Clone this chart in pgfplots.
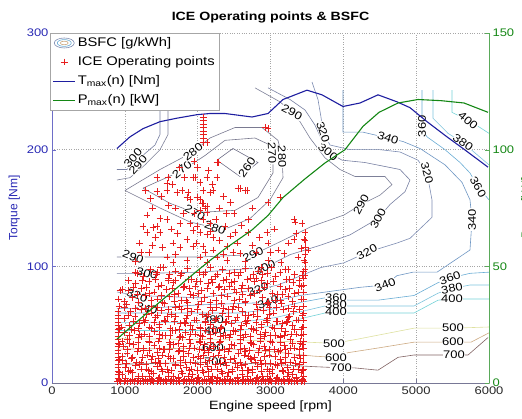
\documentclass[border=0pt]{standalone}
\usepackage{fontspec}
\setmainfont{Liberation Sans}[FakeStretch=1.18]
\newfontfamily\ylfont{Liberation Sans}
\usepackage{pgfplots}
\pgfplotsset{compat=1.18}
\definecolor{axgrey}{RGB}{120,120,150}
\definecolor{axblue}{RGB}{110,110,200}
\definecolor{tickblue}{RGB}{40,40,180}
\definecolor{axgreen}{RGB}{90,170,90}
\definecolor{pgreen}{RGB}{20,135,20}
\definecolor{tblue}{RGB}{30,30,160}
\definecolor{ptred}{RGB}{232,30,30}
\definecolor{c260}{RGB}{110,110,135}
\definecolor{c270}{RGB}{118,118,140}
\definecolor{c280}{RGB}{122,122,145}
\definecolor{c290}{RGB}{125,128,152}
\definecolor{c300}{RGB}{120,128,162}
\definecolor{c320}{RGB}{125,140,178}
\definecolor{c340}{RGB}{110,150,195}
\definecolor{c360}{RGB}{105,172,212}
\definecolor{c380}{RGB}{125,195,220}
\definecolor{c400}{RGB}{115,210,215}
\definecolor{c500}{RGB}{222,225,160}
\definecolor{c600}{RGB}{205,170,130}
\definecolor{c700}{RGB}{130,100,100}
\pgfplotsset{
  lineleg/.style={legend image code/.code={\draw[##1] (0pt,0pt) -- (22pt,0pt);}},
  markleg/.style={legend image code/.code={\draw[mark repeat=2,mark phase=2,##1] plot coordinates {(0pt,0pt)(11pt,0pt)(22pt,0pt)};}},
  contleg/.style={legend image code/.code={
    \draw[c320, line width=0.6pt] (11pt,0pt) ellipse (10pt and 5pt);
    \draw[c360, line width=0.6pt] (11pt,0pt) ellipse (7pt and 3.4pt);
    \draw[c600, line width=0.6pt] (11pt,0pt) ellipse (4pt and 1.8pt);}},
}
\tikzset{cl/.style={font=\fontsize{11}{11}\selectfont, fill=white, inner sep=0.4pt, text=black}}
\newcommand{\cl}[4]{\node[cl, rotate=#4] at (axis cs:#1,#2) {#3};}
\begin{document}
\begin{tikzpicture}
\begin{axis}[
  scale only axis, width=437pt, height=350pt,
  at={(0pt,0pt)}, anchor=south west,
  xmin=0, xmax=6000, ymin=0, ymax=300,
  xtick={0,1000,2000,3000,4000,5000,6000},
  ytick={0,100,200,300},
  axis x line*=bottom, axis y line*=left,
  axis line style={-},
  x axis line style={color=axgrey},
  y axis line style={color=axblue},
  tick align=inside, major tick length=4pt,
  xtick style={color=axgrey}, ytick style={color=axblue},
  grid=major,
  grid style={dotted, color=gray!70, line width=0.4pt},
  /pgf/number format/assume math mode=true,
  /pgf/number format/1000 sep={},
  scaled ticks=false,
  xticklabel style={font=\fontsize{11}{11}\selectfont, color=black!85},
  yticklabel style={font=\fontsize{11}{11}\selectfont, color=tickblue},
  xlabel={Engine speed [rpm]},
  xlabel style={font=\fontsize{12}{12}\selectfont},
  ylabel={Torque [Nm]},
  ylabel style={font=\ylfont\fontsize{12}{12}\selectfont, color=tickblue},
  title={ICE Operating points \& BSFC},
  title style={font=\bfseries\fontsize{12}{12}\selectfont},
  legend style={at={(0,1)}, anchor=north west, xshift=-2pt, draw=gray!70, fill=white,
    font=\fontsize{12.5}{15}\selectfont, inner sep=2.5pt, row sep=4.5pt},
  legend cell align=left,
]
\addlegendimage{contleg}
\addlegendentry{BSFC [g/kWh]}
% ---- BSFC contours ----
\addplot[c260, line width=0.6pt, forget plot] coordinates {(2265,191)(2485,201)(2828,189)(2581,177)(2265,191)};
\addplot[c270, line width=0.6pt, forget plot] coordinates {(1249,167)(1785,182)(2101,195)(2375,208)(2787,210)(2993,204)(3034,197)(3034,180)(2828,159)(2513,148)(1963,146)(1620,154)(1249,167)};
\addplot[c280, line width=0.6pt, forget plot] coordinates {(1002,165)(1483,183)(1936,198)(2169,210)(2513,219)(2883,219)(3103,208)(3158,194)(3172,176)(2993,157)(2719,141)(2416,133)(2238,133)(1895,138)(1483,150)(1002,165)};
\addplot[c290, line width=0.6pt, forget plot] coordinates {(2787,253)(3130,241)(3295,232)(3405,224)(3542,210)(3748,193)(3954,183)(4160,177)(4572,177)(4668,170)(4503,161)(4243,153)(4009,144)(3556,134)(3130,121)(2760,110)(2032,108)(1112,108)(892,108)};
\addplot[c290, line width=0.6pt, forget plot] coordinates {(892,174)(1071,176)(1277,187)(1483,200)(1593,213)(1593,253)};
\addplot[c300, line width=0.6pt, forget plot] coordinates {(2966,253)(3268,243)(3474,234)(3611,221)(3707,208)(3789,198)(3982,191)(4297,189)(4778,183)(4915,174)(4847,164)(4641,153)(4476,141)(4092,127)(3680,118)(3268,110)(2924,99)(2032,95)(1304,94)(892,94)};
\addplot[c300, line width=0.6pt, forget plot] coordinates {(892,183)(1030,183)(1208,193)(1414,204)(1483,213)(1483,253)};
\addplot[c320, line width=0.6pt, forget plot] coordinates {(3570,258)(3652,243)(3693,228)(3721,215)(3817,204)(4092,200)(4503,200)(4778,198)(5025,191)(5149,180)(5217,157)(5217,142)(4915,124)(4737,120)(4325,112)(4009,103)(3693,99)(3103,84)(2828,80)(2032,73)(1167,75)(892,78)};
\addplot[c340, line width=0.6pt, forget plot] coordinates {(3995,251)(3995,215)(4270,215)(4613,210)(4819,207)(5053,201)(5396,187)(5629,172)(5739,157)(5767,140)(5739,114)(5286,95)(4957,95)(4737,92)(4572,84)(4229,82)(3405,75)(2966,69)(2032,67)(1304,64)(892,64)};
\addplot[c360, line width=0.6pt, forget plot] coordinates {(5080,251)(5080,218)(5149,211)(5396,200)(5602,189)(5739,180)(5849,168)(6000,157)};
\addplot[c380, line width=0.6pt, forget plot] coordinates {(5231,251)(5231,227)(5437,214)(5643,206)(5849,195)(6000,187)};
\addplot[c400, line width=0.6pt, forget plot] coordinates {(5492,251)(5492,232)(5712,225)(5876,219)(6000,214)};
\addplot[c360, line width=0.6pt, forget plot] coordinates {(892,60)(2581,60)(2993,63)(3405,69)(3748,73)(3899,73)(4064,71)(4476,71)(4970,75)(5300,86)(5465,90)(5739,94)(6000,95)};
\addplot[c380, line width=0.6pt, forget plot] coordinates {(892,52)(2581,52)(3062,56)(3405,61)(3748,66)(3899,67)(4064,66)(4970,66)(5300,77)(5492,81)(5739,84)(6000,84)};
\addplot[c400, line width=0.6pt, forget plot] coordinates {(892,45)(2581,45)(3130,50)(3474,56)(3748,60)(3899,61)(4064,60)(4970,60)(5300,71)(5492,72)(5739,72)(6000,72)};
\addplot[c500, line width=0.6pt, forget plot] coordinates {(892,38)(2500,37)(3500,35)(3872,34)(4147,37)(4970,47)(5506,47)(6000,48)};
\addplot[c600, line width=0.6pt, forget plot] coordinates {(892,29)(2211,30)(3000,27)(3600,23)(3899,22)(4064,26)(4476,30)(4970,35)(5753,35)(6000,43)};
\addplot[c700, line width=0.6pt, forget plot] coordinates {(892,16)(2238,18)(3000,16)(3600,14)(3968,13)(4147,13)(4476,11)(4751,22)(4970,24)(5712,24)(5987,39)};
% ---- contour labels ----
\cl{2677}{185}{260}{55}
\cl{1785}{183}{270}{38}\cl{1963}{146}{270}{-30}\cl{3020}{197}{270}{-88}
\cl{1936}{198}{280}{38}\cl{3158}{194}{280}{-88}\cl{2238}{133}{280}{-20}
\cl{3295}{232}{290}{-28}\cl{4243}{153}{290}{62}\cl{2760}{110}{290}{25}\cl{1112}{108}{290}{-20}\cl{1181}{187}{290}{48}
\cl{3789}{198}{300}{-38}\cl{4476}{141}{300}{62}\cl{2924}{99}{300}{25}\cl{1304}{94}{300}{-15}\cl{1112}{193}{300}{48}
\cl{3721}{215}{320}{-72}\cl{5149}{180}{320}{-75}\cl{4325}{112}{320}{28}\cl{2828}{80}{320}{20}\cl{1167}{75}{320}{-20}
\cl{4613}{210}{340}{-18}\cl{5767}{140}{340}{90}\cl{4572}{84}{340}{22}\cl{2966}{69}{340}{20}\cl{1304}{64}{340}{-15}
\cl{5080}{220}{360}{90}\cl{5849}{168}{360}{-60}\cl{3899}{73}{360}{0}\cl{5465}{90}{360}{20}
\cl{5643}{206}{380}{-35}\cl{3899}{67}{380}{0}\cl{5492}{81}{380}{10}\cl{2211}{54}{380}{0}
\cl{5712}{225}{400}{-40}\cl{3899}{61}{400}{0}\cl{5492}{72}{400}{0}\cl{2238}{45}{400}{0}
\cl{3872}{34}{500}{0}\cl{5506}{47}{500}{0}
\cl{3899}{22}{600}{0}\cl{5506}{35}{600}{0}\cl{2211}{30}{600}{0}
\cl{3968}{13}{700}{0}\cl{5520}{24}{700}{0}\cl{2238}{18}{700}{0}
% ---- operating points ----
\addplot[only marks, mark=+, mark size=3.4pt, color=ptred, mark options={line width=0.7pt}, markleg]
coordinates {
(900,1)(945,1)(990,1)(1035,1)(1080,1)(1125,1)(1170,1)(1215,1)(1260,1)(1305,1)(1350,1)(1395,1)(1440,1)(1485,1)(1530,1)(1575,1)(1620,1)(1665,1)(1710,1)(1755,1)(1800,1)(1845,1)(1890,1)(1935,1)(1980,1)(2025,1)(2070,1)(2115,1)(2160,1)(2205,1)(2250,1)(2295,1)(2340,1)(2385,1)(2430,1)(2475,1)(2520,1)(2565,1)(2610,1)(2655,1)(2700,1)(2745,1)(2790,1)(2835,1)(2880,1)(2925,1)(2970,1)(3015,1)(3060,1)(3105,1)(3150,1)(3195,1)(3240,1)(3285,1)(3330,1)(3375,1)(3420,1)(3460,1)
(922,2.3)(1012,2.3)(1102,2.3)(1192,2.3)(1282,2.3)(1372,2.3)(1462,2.3)(1552,2.3)(1642,2.3)(1732,2.3)(1822,2.3)(1912,2.3)(2002,2.3)(2092,2.3)(2182,2.3)(2272,2.3)(2362,2.3)(2452,2.3)(2542,2.3)(2632,2.3)(2722,2.3)(2812,2.3)(2902,2.3)(2992,2.3)(3082,2.3)(3172,2.3)(3262,2.3)(3352,2.3)(3442,2.3)
(920,3.5)(1010,4)(1100,3)(1190,4)(1280,3.5)(1370,3)(1460,4)(1550,3.5)(1640,3)(1730,4)(1820,3.5)(1910,3)(2000,4)(2090,3.5)(2180,3)(2270,4)(2360,3.5)(2450,3)(2540,4)(2630,3.5)(2720,3)(2810,4)(2900,3.5)(2990,3)(3080,4)(3170,3.5)(3260,3)(3350,4)(3440,3.5)
(905,4)(905,7)(905,10)(905,13)(905,16)(905,19)(905,22)(905,25)(905,28)(905,31)(905,34)(905,37)(905,40)(905,43)(905,46)(905,49)(905,52)(905,55)(905,58)(905,61)(920,66)(915,72)(935,79)(925,9)(925,20)(925,33)(925,47)
(3455,6)(3455,12)(3455,18)(3455,24)(3455,30)(3455,36)(3455,42)(3455,48)(3455,54)(3455,60)(3455,66)(3455,72)(3455,78)(3455,84)(3455,90)(3455,96)
(960,7)(1110,9)(1240,6)(1390,8)(1520,10)(1660,6)(1790,8)(1930,7)(2080,9)(2200,6)(2340,8)(2480,10)(2610,7)(2750,9)(2890,6)(3020,8)(3170,10)(3300,7)(3420,9)
(1010,13)(1150,15)(1300,12)(1440,14)(1580,12)(1700,15)(1850,13)(1990,11)(2130,14)(2270,12)(2400,15)(2540,13)(2680,11)(2820,14)(2950,12)(3090,15)(3230,13)(3380,12)
(970,19)(1090,21)(1220,18)(1360,20)(1490,17)(1630,21)(1760,19)(1900,18)(2040,21)(2160,19)(2310,17)(2450,20)(2580,18)(2720,21)(2860,19)(3000,17)(3140,20)(3270,18)(3410,21)
(1030,25)(1170,27)(1310,24)(1450,26)(1600,23)(1730,27)(1870,25)(2010,23)(2150,26)(2290,24)(2420,27)(2560,25)(2700,23)(2840,26)(2980,24)(3110,27)(3250,25)(3390,24)
(980,31)(1120,33)(1260,30)(1400,32)(1540,29)(1670,33)(1810,31)(1950,30)(2090,33)(2220,31)(2360,29)(2500,32)(2640,30)(2770,33)(2910,31)(3050,29)(3190,32)(3330,30)(3440,33)
(1040,37)(1190,39)(1330,36)(1470,38)(1610,35)(1750,39)(1890,37)(2030,35)(2170,38)(2310,36)(2440,39)(2580,37)(2720,35)(2860,38)(3000,36)(3130,39)(3270,37)(3410,36)
(990,43)(1130,45)(1270,42)(1410,44)(1550,41)(1690,45)(1830,43)(1970,42)(2110,45)(2240,43)(2380,41)(2520,44)(2660,42)(2800,45)(2930,43)(3070,41)(3210,44)(3350,42)
(1060,49)(1200,51)(1340,48)(1480,50)(1620,47)(1760,51)(1900,49)(2040,47)(2180,50)(2320,48)(2460,51)(2600,49)(2740,47)(2880,50)(3020,48)(3160,51)(3300,49)(3440,48)
(1000,55)(1140,57)(1280,54)(1420,56)(1560,53)(1700,57)(1840,55)(1980,54)(2120,57)(2260,55)(2400,53)(2540,56)(2680,54)(2820,57)(2960,55)(3100,53)(3240,56)(3380,54)
(1080,61)(1220,63)(1360,60)(1500,62)(1640,59)(1780,63)(1920,61)(2060,59)(2200,62)(2340,60)(2480,63)(2620,61)(2760,59)(2900,62)(3040,60)(3180,63)(3320,61)
(1020,67)(1190,69)(1370,66)(1540,68)(1700,65)(1860,69)(2010,67)(2170,65)(2330,68)(2490,66)(2650,69)(2810,67)(2980,65)(3150,68)(3330,66)
(1100,73)(1280,75)(1450,72)(1610,74)(1780,71)(1940,75)(2090,73)(2250,71)(2410,74)(2570,72)(2730,75)(2890,73)(3060,71)(3240,74)(3420,72)
(1050,79)(1230,81)(1400,78)(1570,80)(1730,77)(1890,81)(2050,79)(2210,77)(2370,80)(2530,78)(2690,81)(2850,79)(3020,77)(3200,80)(3380,78)
(1150,85)(1330,87)(1500,84)(1660,86)(1820,83)(1980,87)(2140,85)(2300,83)(2460,86)(2620,84)(2780,87)(2950,85)(3130,83)(3310,86)
(1250,91)(1430,93)(1600,90)(1760,92)(1920,89)(2080,93)(2240,91)(2400,89)(2560,92)(2720,90)(2890,93)(3070,91)(3260,89)(3440,92)
(1350,97)(1530,99)(1700,96)(1860,98)(2020,95)(2180,99)(2340,97)(2500,95)(2660,98)(2830,96)(3010,99)(3200,97)
(1050,10)(1320,11)(1600,9)(1880,11)(2150,10)(2420,9)(2700,11)(2980,10)(3250,9)
(1200,16)(1480,17)(1760,15)(2040,16)(2310,17)(2600,15)(2870,16)(3150,17)(3400,16)
(1100,22)(1380,23)(1660,21)(1940,22)(2210,23)(2500,21)(2780,22)(3060,23)(3330,22)
(1250,28)(1530,29)(1810,27)(2090,28)(2370,29)(2650,27)(2930,28)(3200,29)
(1060,34)(1340,35)(1620,33)(1900,34)(2180,35)(2460,33)(2740,34)(3020,35)(3300,34)
(1230,40)(1510,41)(1790,39)(2070,40)(2350,41)(2630,39)(2910,40)(3190,41)
(1090,46)(1370,47)(1650,45)(1930,46)(2210,47)(2490,45)(2770,46)(3050,47)(3330,46)
(1270,52)(1550,53)(1830,51)(2110,52)(2390,53)(2670,51)(2950,52)(3230,53)
(1150,64)(1450,58)(1750,66)(2050,70)(2350,64)(2650,58)(2950,68)(3250,64)(1300,82)(1600,88)(1900,76)(2200,86)(2500,80)(2800,90)(3100,76)(3400,84)(990,65)(960,80)(1050,88)(1150,95)
(1180,5.5)(1330,6)(1470,5)(1600,6)(1740,5)(1870,6)(2010,5)(2140,6)(2270,5)(2410,6)(2550,5)(2680,6)(2820,5)(2960,6)(3090,5)(3230,6)(3360,5)
(1080,11)(1220,12)(1360,10)(1500,12)(1640,11)(1770,10)(1920,12)(2060,11)(2190,12)(2330,10)(2470,12)(2610,11)(2750,12)(2880,10)(3020,12)(3160,11)(3310,12)(3440,11)
(1020,17)(1160,18)(1290,16)(1420,18)(1560,17)(1700,16)(1830,18)(1970,17)(2100,18)(2240,16)(2380,18)(2520,17)(2650,16)(2790,18)(2930,17)(3070,16)(3200,18)(3340,17)
(960,23)(1240,22)(1520,24)(1800,23)(2080,24)(2360,22)(2640,24)(2920,23)(3200,22)(3450,24)(1460,21)(2740,20)
(1040,29)(1190,30)(1330,28)(1470,30)(1610,29)(1750,28)(1890,30)(2020,29)(2160,30)(2300,28)(2440,30)(2580,29)(2710,28)(2850,30)(2990,29)(3130,28)(3270,30)(3400,29)
(1180,35)(1460,36)(1740,34)(2020,36)(2300,35)(2580,34)(2860,36)(3140,35)(3410,34)(960,36)
(1060,41)(1200,42)(1340,40)(1480,42)(1620,41)(1760,40)(1900,42)(2040,41)(2180,42)(2310,40)(2450,42)(2590,41)(2720,40)(2860,42)(3000,41)(3140,40)(3280,42)(3420,41)
(1190,47)(1470,48)(1750,46)(2030,48)(2310,47)(2590,46)(2870,48)(3150,47)(3420,46)(950,48)
(1120,53)(1260,54)(1400,52)(1540,54)(1680,53)(1820,52)(1960,54)(2100,53)(2240,54)(2380,52)(2520,54)(2660,53)(2800,52)(2940,54)(3080,53)(3220,52)(3360,54)
(1050,58)(1300,59)(1580,57)(1860,58)(2140,59)(2420,57)(2700,58)(2980,59)(3260,57)(3440,58)
(1280,64)(1440,65)(1600,63)(1860,64)(2000,63)(2260,65)(2420,63)(2560,65)(2820,63)(3080,65)(3400,63)
(1000,70)(1360,71)(1520,69)(1680,70)(1840,71)(2170,69)(2500,71)(2660,70)(2970,69)(3140,71)(3300,70)
(1170,76)(1340,77)(1500,75)(1680,76)(2010,77)(2330,75)(2620,76)(2780,77)(3160,76)(3330,77)
(1120,82)(1460,83)(1650,81)(1810,82)(1970,83)(2130,81)(2290,82)(2440,83)(2600,81)(2920,82)(3260,81)(3430,83)
(1240,88)(1420,89)(1700,88)(1870,89)(2030,87)(2190,89)(2350,88)(2510,87)(2680,89)(2880,88)(3040,87)(3220,89)(3390,88)
(1170,94)(1440,95)(1610,93)(1780,94)(2100,95)(2270,93)(2430,94)(2590,95)(2760,93)(2960,94)(3130,95)(3330,93)
(3475,92)(3475,97)(3475,103)(3475,110)(3475,116)(3475,122)(3475,129)
(1250,134)(1387,133)(1483,141)(1579,140)(1304,144)(1442,134)(1483,129)(1304,129)(1757,137)(1895,137)(1936,131)(2032,129)(2128,127)(2211,125)(1854,123)(1661,120)(1757,116)(1936,117)(2073,117)(2211,114)(2403,117)(2485,112)(2581,111)(2265,108)(2403,105)(2032,108)(1579,108)(1661,103)(1854,105)(2128,103)(1483,99)(2073,140)(2169,137)(1991,134)(2375,134)(2513,129)(2691,129)(2952,129)(3336,138)(3432,137)(3323,140)(3460,123)(3323,123)(3515,114)(3378,108)(3460,105)(2966,120)(3103,114)(3185,111)(3144,103)(3240,97)(2966,105)(2870,99)
(1150,104)(1220,112)(1380,118)(2300,150)(2700,140)(2800,112)(2650,104)(1720,128)(1600,152)(1350,158)
(1200,120)(1330,112)(1420,125)(1520,116)(1640,132)(1700,110)(1800,145)(1980,120)(2100,112)(2180,130)(2300,122)(2350,110)(2450,126)(2550,120)(2600,135)(2750,118)(2850,125)(3000,112)(3050,132)(3250,120)(3350,128)(3420,115)(1500,160)(1650,170)(1750,185)(1820,176)(1950,190)(2000,185)(2150,182)(2200,170)(2350,160)(2450,155)(2500,145)(1380,150)(1280,165)(1700,150)(1950,145)(2250,140)(2400,145)(2750,150)
(2073,206)(2279,189)(1442,176)(1579,171)(1936,176)(2032,172)(2128,176)(2265,176)(1442,164)(1716,163)(1854,159)(2032,157)(2073,154)(2101,150)(2581,167)(2677,165)(1593,176)(1579,165)(1963,176)(1785,165)(1867,163)(1991,159)(2073,165)(2169,163)(2211,165)(1895,157)(2060,154)(2128,151)(2032,148)(2128,146)(2128,206)(2265,189)(2924,219)(2966,218)(2554,167)(2650,165)(3130,159)(2966,155)
(2075,210)(2075,213)(2075,216)(2075,219)(2075,222)(2075,225)(2075,228)
};
\addlegendentry{ICE Operating points}
\addplot[tblue, line width=1.1pt, lineleg]
coordinates {(892,201)(1071,211)(1249,218)(1483,224)(1716,227)(1991,230)(2169,231)(2375,231)(2746,228)(2966,231)(3172,243)(3501,251)(3707,247)(3995,237)(4229,240)(4476,247)(4737,241)(4915,236)(5149,224)(5423,211)(5643,201)(5987,185)};
\addlegendentry{T\textsubscript{max}(n) [Nm]}
\addlegendimage{pgreen, line width=1.1pt, lineleg}
\addlegendentry{P\textsubscript{max}(n) [kW]}
\end{axis}
\begin{axis}[
  scale only axis, width=437pt, height=350pt,
  at={(0pt,0pt)}, anchor=south west,
  xmin=0, xmax=6000, ymin=0, ymax=150,
  axis x line=none, axis y line*=right, axis line style={-},
  y axis line style={color=axgreen}, ytick style={color=axgreen},
  ytick={0,50,100,150}, tick align=inside, major tick length=4pt,
  /pgf/number format/assume math mode=true,
  yticklabel style={font=\fontsize{11}{11}\selectfont, color=pgreen},
  ylabel={Power [kW]},
  ylabel style={font=\ylfont\fontsize{12}{12}\selectfont, color=pgreen},
]
\addplot[pgreen, line width=1.1pt] coordinates {(892,18.8)(1071,23.7)(1249,28.5)(1483,34.8)(1716,40.8)(1991,48)(2169,52.5)(2375,57.5)(2746,65.6)(2966,71.8)(3172,79.5)(3474,87.5)(3748,94.3)(4023,100)(4270,110)(4490,116)(4751,120)(5025,121.5)(5341,121)(5657,120)(5987,116)};
\end{axis}
\pgfresetboundingbox
\path[use as bounding box] (-52pt,-35pt) rectangle (470pt,383pt);
\end{tikzpicture}
\end{document}
